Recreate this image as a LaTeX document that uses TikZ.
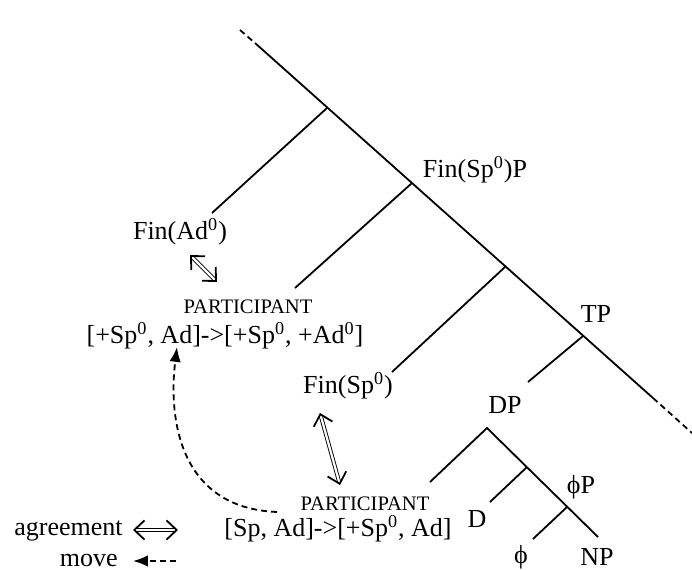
\documentclass[tikz,border=0pt]{standalone}
\usepackage{fontspec}
\setmainfont{Liberation Serif}
\usetikzlibrary{arrows.meta, positioning, calc}
\tikzset{
  branch/.style={line width=0.9pt, draw=black},
  trunk/.style={branch, dashed, dash pattern=on 3pt off 2pt},
  lab/.style={font=\fontsize{13}{15}\selectfont, inner sep=0pt, anchor=base},
  feat/.style={font=\fontsize{10.3}{12}\selectfont, inner sep=0pt, anchor=base},
  agree/.style={double, double distance=1.1pt, line width=0.45pt,
                {Straight Barb[length=1.8mm,width=3.4mm,line width=0.9pt]}-{Straight Barb[length=1.8mm,width=3.4mm,line width=0.9pt]}},
  move/.style={line width=0.9pt, dash pattern=on 3pt off 2pt, -{Latex[length=2.6mm,width=2mm]}},
}
\newcommand{\zr}{\textsuperscript{0}}

\begin{document}
\begin{tikzpicture}[x=0.5pt, y=-0.5pt]
\useasboundingbox (0,0) rectangle (692,569);

% Spine
\coordinate (top) at (240,30);
\coordinate (s0)  at (255,43);
\coordinate (s1)  at (327,108);
\coordinate (s2)  at (412,183);
\coordinate (s3)  at (505,267);
\coordinate (s4)  at (583,336);
\coordinate (s5)  at (653,398);
\coordinate (bot) at (692,433);

% Branch ends
\coordinate (b1) at (212,213);
\coordinate (b2) at (295,288);
\coordinate (b3) at (392,372);
\coordinate (b4) at (528,382);

% DP subtree
\coordinate (dp)   at (487,428);
\coordinate (dpl)  at (430,482);
\coordinate (dpn)  at (527,467);
\coordinate (dd)   at (490,502);
\coordinate (phn)  at (567,507);
\coordinate (phl)  at (533,539);
\coordinate (npe)  at (598,537);

% Labels
\node[lab] (finad)  at (180,239) {Fin(Ad\zr)};
\node[lab] (finspp) at (475,177) {Fin(Sp\zr)P};
\node[feat] (part1) at (248,313) {PARTICIPANT};
\node[lab] (feat1)  at (225,343) {[+Sp\zr, Ad]->[+Sp\zr, +Ad\zr]};
\node[lab] (finsp)  at (348,393) {Fin(Sp\zr)};
\node[lab] (tp)     at (596,322) {TP};
\node[lab] (dpl0)   at (505,413) {DP};
\node[feat] (part2) at (365,510) {PARTICIPANT};
\node[lab] (feat2)  at (338,536) {[Sp, Ad]->[+Sp\zr, Ad]};
\node[lab] (dlab)   at (477,527) {D};
\node[lab] (phip)   at (581,493) {ϕP};
\node[lab] (phi)    at (521,563) {ϕ};
\node[lab] (np)     at (597,565) {NP};

% Tree lines
\draw[trunk]  (top) -- (s0);
\draw[branch] (s0) -- (s5);
\draw[trunk]  (s5) -- (bot);
\draw[branch] (s1) -- (b1);
\draw[branch] (s2) -- (b2);
\draw[branch] (s3) -- (b3);
\draw[branch] (s4) -- (b4);
\draw[branch] (dpl) -- (dp) -- (npe);
\draw[branch] (dpn) -- (dd);
\draw[branch] (phn) -- (phl);

% Agreement and movement
\coordinate (ag1a) at (190,255);
\coordinate (ag1b) at (217,282);
\coordinate (ag2a) at (320,413);
\coordinate (ag2b) at (340,485);
\draw[agree] (ag1a) -- (ag1b);
\draw[agree] (ag2a) -- (ag2b);
\coordinate (mvs) at (277,512);
\coordinate (mve) at (177,347);
\draw[move] (mvs) .. controls (180,508) and (168,420) .. (mve);

% Legend
\node[lab, anchor=base east] (lagree) at (123,535) {agreement};
\node[lab, anchor=base east] (lmove)  at (118,566) {move};
\coordinate (la1) at (133,530);
\coordinate (la2) at (178,530);
\coordinate (lm1) at (176,561);
\coordinate (lm2) at (133,561);
\draw[agree] (la1) -- (la2);
\draw[move]  (lm1) -- (lm2);

\end{tikzpicture}
\end{document}
